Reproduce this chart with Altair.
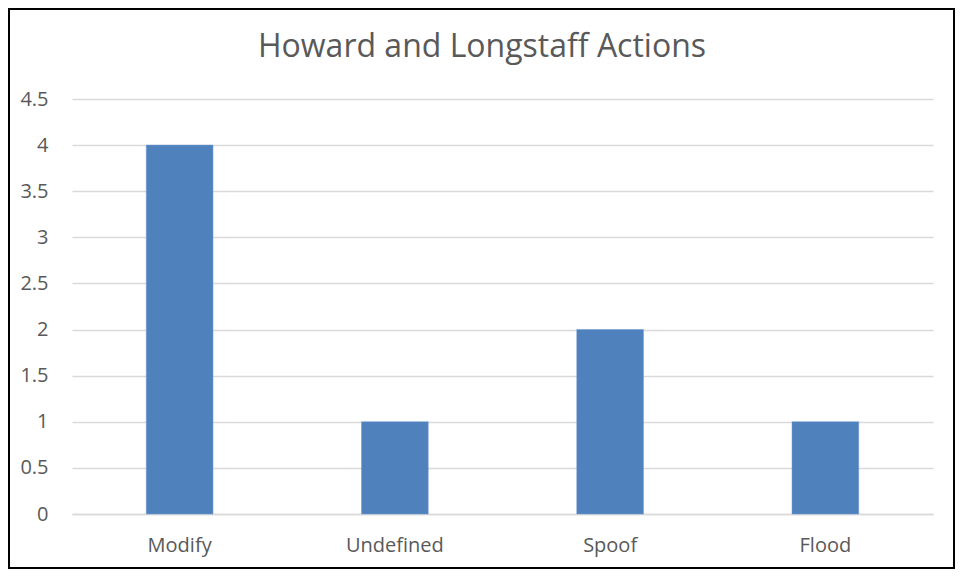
import altair as alt
import pandas as pd

categories = ["Modify", "Undefined", "Spoof", "Flood"]
values = [4, 1, 2, 1]
y_ticks = [0, 0.5, 1, 1.5, 2, 2.5, 3, 3.5, 4, 4.5]
title_text = "Howard and Longstaff Actions"

df = pd.DataFrame({"action": categories, "count": values})

W, H = 861, 415
PL, PT, PR, PB = 64, 91, 22, 55

bars = alt.Chart(df).mark_bar(color="#4F81BD", stroke="#6F9AD0", strokeWidth=0.5).encode(
    x=alt.X("action:N", sort=categories, title=None,
            scale=alt.Scale(paddingInner=0.69, paddingOuter=0.345),
            axis=alt.Axis(labelAngle=0, ticks=False, tickSize=0, domain=True, domainColor="#D9D9D9",
                          domainWidth=1.3,
                          labelPadding=21, labelFontSize=20, labelColor="#595959",
                          labelFont="Open Sans")),
    y=alt.Y("count:Q", title=None,
            scale=alt.Scale(domain=[0, 4.5], nice=False),
            axis=alt.Axis(values=y_ticks, format="~g", ticks=False, tickSize=0, domain=False,
                          grid=True, gridColor="#D9D9D9", gridWidth=1.3,
                          labelPadding=24, labelFontSize=20, labelColor="#595959",
                          labelFont="Open Sans")),
)

border = alt.Chart(pd.DataFrame({"a": [0]})).mark_rect(
    fill=None, stroke="#000000", strokeWidth=2
).encode(
    x=alt.value(-PL + 1), x2=alt.value(W + PR - 1),
    y=alt.value(-PT + 1), y2=alt.value(H + PB - 1),
)

title = alt.Chart(pd.DataFrame({"a": [0]})).mark_text(
    font="Open Sans", fontSize=32, color="#595959", align="center", baseline="alphabetic"
).encode(
    x=alt.value(410), y=alt.value(-42), text=alt.value(title_text),
)

chart = alt.layer(bars, border, title).properties(
    width=W, height=H,
    background="white",
    autosize=alt.AutoSizeParams(type="none"),
    padding={"left": PL, "top": PT, "right": PR, "bottom": PB},
).configure_view(stroke=None, strokeWidth=0)

chart.save("out.html", embed_options={"renderer": "svg", "actions": False})
